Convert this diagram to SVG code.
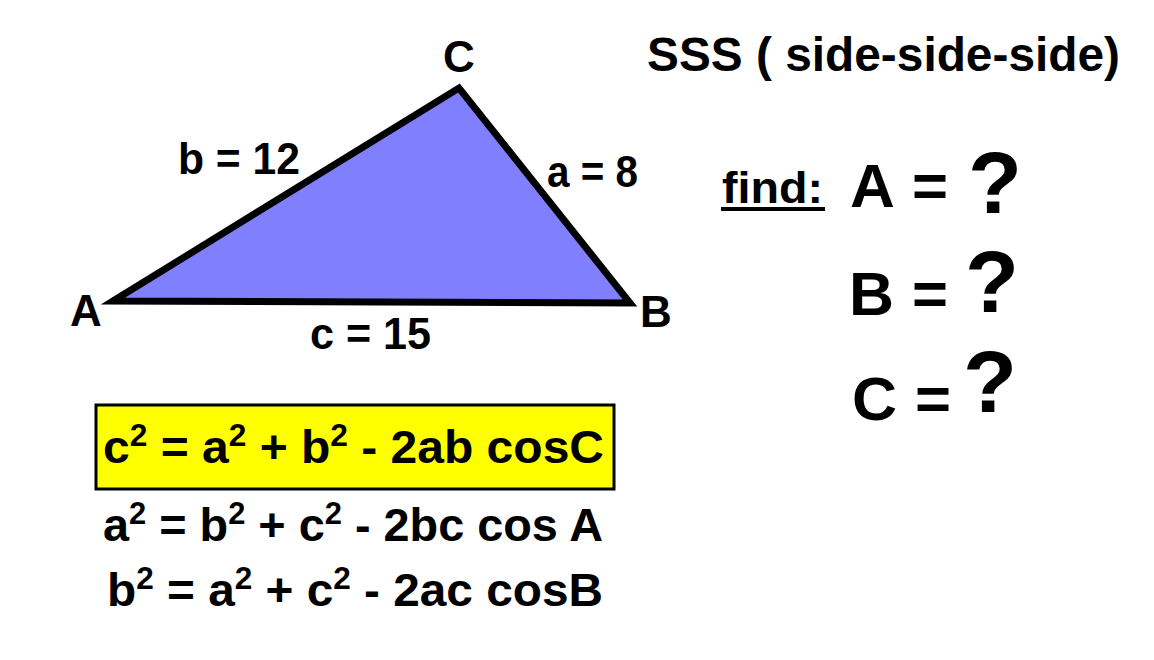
<svg xmlns="http://www.w3.org/2000/svg" width="1154" height="660" viewBox="0 0 1154 660">
<style>
text{font-family:"Liberation Sans",Arial,sans-serif;font-weight:bold;fill:#000}
.lbl{font-size:44px}
.eq{font-size:47px}
.sup{font-size:31px}
.big{font-size:62px}
.q{font-size:88px}
</style>
<rect x="0" y="0" width="1154" height="660" fill="#fff"/>
<g id="triangle">
<polygon points="113,301 459,88 630,303" fill="#8080FF" stroke="#000" stroke-width="7" stroke-linejoin="miter"/>
</g>
<g id="labels">
<text class="lbl" x="459" y="72" text-anchor="middle">C</text>
<text class="lbl" x="86" y="326" text-anchor="middle">A</text>
<text class="lbl" x="656" y="327" text-anchor="middle">B</text>
<text class="lbl" x="178" y="174" textLength="122" lengthAdjust="spacingAndGlyphs">b = 12</text>
<text class="lbl" x="547" y="187" textLength="91" lengthAdjust="spacingAndGlyphs">a = 8</text>
<text class="lbl" x="310" y="349" textLength="121" lengthAdjust="spacingAndGlyphs">c = 15</text>
</g>
<g id="title">
<text x="647" y="71" style="font-size:48px" textLength="473" lengthAdjust="spacingAndGlyphs">SSS ( side-side-side)</text>
</g>
<g id="find">
<text x="722" y="203" style="font-size:44px" textLength="101" lengthAdjust="spacingAndGlyphs">find:</text>
<rect x="721" y="207" width="104" height="4" fill="#000"/>
<text class="big" x="850" y="207">A</text>
<text class="big" x="912" y="207" textLength="36" lengthAdjust="spacingAndGlyphs">=</text>
<text class="q" x="968" y="213" textLength="54" lengthAdjust="spacingAndGlyphs">?</text>
<text class="big" x="849" y="315" textLength="45" lengthAdjust="spacingAndGlyphs">B</text>
<text class="big" x="912" y="315" textLength="36" lengthAdjust="spacingAndGlyphs">=</text>
<text class="q" x="965" y="312" textLength="54" lengthAdjust="spacingAndGlyphs">?</text>
<text class="big" x="852" y="420" textLength="45" lengthAdjust="spacingAndGlyphs">C</text>
<text class="big" x="915" y="420" textLength="36" lengthAdjust="spacingAndGlyphs">=</text>
<text class="q" x="963" y="412" textLength="54" lengthAdjust="spacingAndGlyphs">?</text>
</g>
<g id="formula-box">
<rect x="96" y="405" width="518" height="84" fill="#FFFF00" stroke="#000" stroke-width="3"/>
<text class="eq" x="103" y="463" textLength="501" lengthAdjust="spacingAndGlyphs">c<tspan class="sup" dy="-17">2</tspan><tspan dy="17"> = a</tspan><tspan class="sup" dy="-17">2</tspan><tspan dy="17"> + b</tspan><tspan class="sup" dy="-17">2</tspan><tspan dy="17"> - 2ab cosC</tspan></text>
</g>
<g id="formulas">
<text class="eq" x="103" y="541" textLength="500" lengthAdjust="spacingAndGlyphs">a<tspan class="sup" dy="-17">2</tspan><tspan dy="17"> = b</tspan><tspan class="sup" dy="-17">2</tspan><tspan dy="17"> + c</tspan><tspan class="sup" dy="-17">2</tspan><tspan dy="17">  - 2bc cos A</tspan></text>
<text class="eq" x="107" y="606" textLength="496" lengthAdjust="spacingAndGlyphs">b<tspan class="sup" dy="-17">2</tspan><tspan dy="17"> = a</tspan><tspan class="sup" dy="-17">2</tspan><tspan dy="17"> + c</tspan><tspan class="sup" dy="-17">2</tspan><tspan dy="17">  - 2ac cosB</tspan></text>
</g>
</svg>
